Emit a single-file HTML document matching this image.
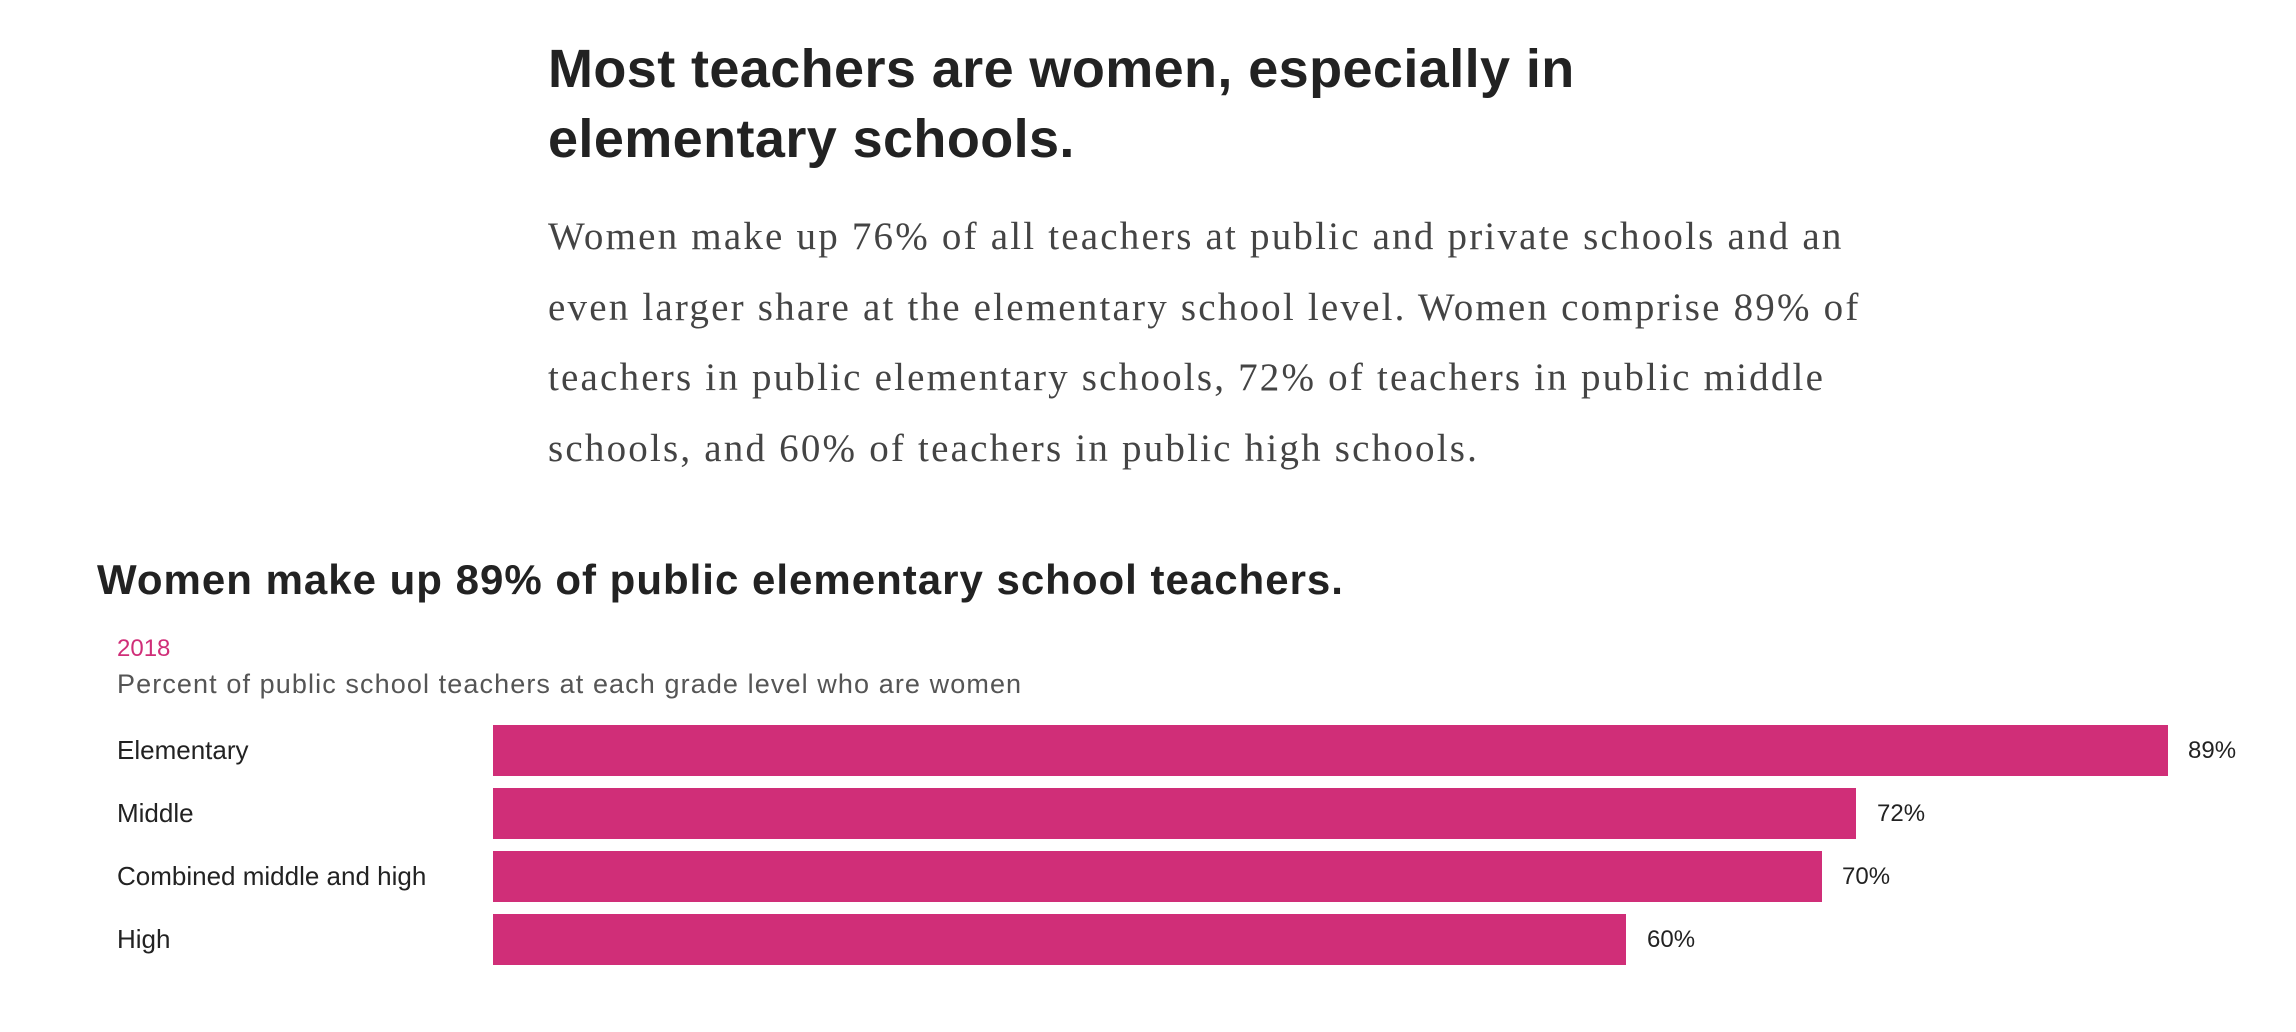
<!DOCTYPE html>
<html><head><meta charset="utf-8"><style>
html,body{margin:0;padding:0;background:#fff;width:2296px;height:1032px;overflow:hidden;position:relative}
.t{position:absolute;white-space:nowrap}
h1{position:absolute;left:548px;top:34px;margin:0;font:bold 54px/70px "Liberation Sans",sans-serif;color:#222;letter-spacing:0.4px}
.p{position:absolute;left:548px;top:202px;font:39px/70.5px "Liberation Serif",serif;color:#444;white-space:nowrap;letter-spacing:2.2px}
.ct{left:97px;top:552px;font:bold 42px/56px "Liberation Sans",sans-serif;color:#222;letter-spacing:1px}
.yr{left:117px;top:634px;font:24px/30px "Liberation Sans",sans-serif;color:#d02e78}
.sub{left:117px;top:668px;font:27px/32px "Liberation Sans",sans-serif;color:#555;letter-spacing:1.1px}
.bar{position:absolute;left:493px;height:51px;background:#d02e78}
.lab{left:117px;font:26px/51px "Liberation Sans",sans-serif;color:#222}
.val{font:24px/51px "Liberation Sans",sans-serif;color:#222}
</style></head><body>
<h1>Most teachers are women, especially in<br>elementary schools.</h1>
<div class="p">Women make up 76% of all teachers at public and private schools and an<br>even larger share at the elementary school level. Women comprise 89% of<br>teachers in public elementary schools, 72% of teachers in public middle<br>schools, and 60% of teachers in public high schools.</div>
<div class="t ct">Women make up 89% of public elementary school teachers.</div>
<div class="t yr">2018</div>
<div class="t sub">Percent of public school teachers at each grade level who are women</div>

<div class="t lab" style="top:725px">Elementary</div>
<div class="bar" style="top:725px;width:1675px"></div>
<div class="t val" style="top:725px;left:2188px">89%</div>

<div class="t lab" style="top:788px">Middle</div>
<div class="bar" style="top:788px;width:1363px"></div>
<div class="t val" style="top:788px;left:1877px">72%</div>

<div class="t lab" style="top:851px">Combined middle and high</div>
<div class="bar" style="top:851px;width:1329px"></div>
<div class="t val" style="top:851px;left:1842px">70%</div>

<div class="t lab" style="top:914px">High</div>
<div class="bar" style="top:914px;width:1133px"></div>
<div class="t val" style="top:914px;left:1647px">60%</div>
</body></html>
